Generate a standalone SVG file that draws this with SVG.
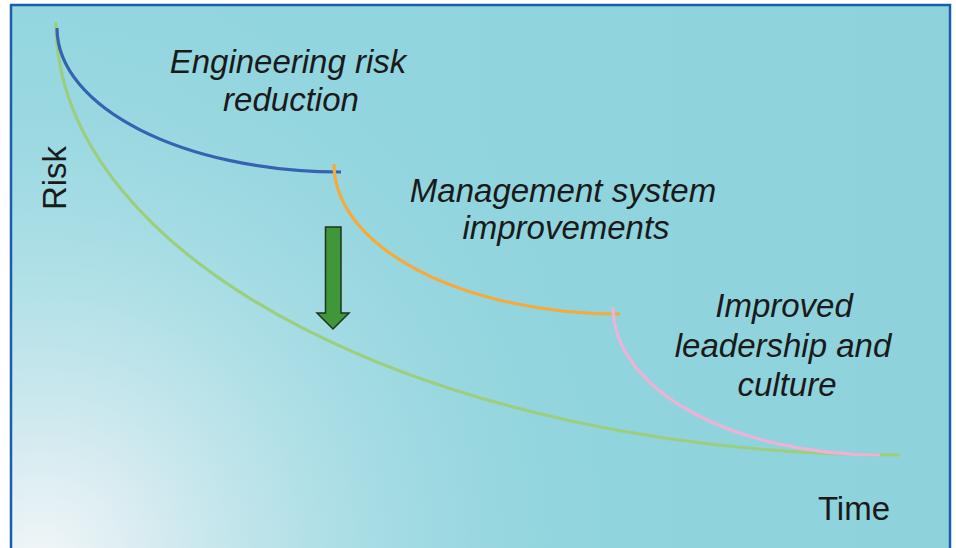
<svg xmlns="http://www.w3.org/2000/svg" width="956" height="548" viewBox="0 0 956 548">
  <defs>
    <linearGradient id="bg" x1="0" y1="0" x2="1" y2="0">
      <stop offset="0" stop-color="#93d6df"/>
      <stop offset="1" stop-color="#8ed3dc"/>
    </linearGradient>
    <radialGradient id="glow" cx="40" cy="560" r="620" gradientUnits="userSpaceOnUse">
      <stop offset="0" stop-color="#f2f6f8" stop-opacity="1"/>
      <stop offset="0.15" stop-color="#e4f0f4" stop-opacity="0.9"/>
      <stop offset="0.45" stop-color="#c6e7ed" stop-opacity="0.6"/>
      <stop offset="0.75" stop-color="#a9dde5" stop-opacity="0.25"/>
      <stop offset="1" stop-color="#93d6df" stop-opacity="0"/>
    </radialGradient>
    <style>
      .curve { fill: none; stroke-width: 3.2; stroke-linecap: butt; }
      .label { font-family: "Liberation Sans", Arial, sans-serif; font-size: 33px; fill: #1a1a1a; }
      .it { font-style: italic; text-anchor: middle; }
    </style>
  </defs>

  <!-- panel background -->
  <rect x="0" y="0" width="956" height="548" fill="#ffffff"/>
  <rect x="11" y="5" width="939" height="560" fill="url(#bg)"/>
  <rect x="11" y="5" width="939" height="560" fill="url(#glow)"/>
  <rect x="11" y="5" width="939" height="560" fill="none" stroke="#1a5daa" stroke-width="2.5"/>

  <!-- risk curves -->
  <g id="connectors">
    <path id="overall" class="curve" stroke="#9bcf7f" d="M56,22 C56,261 433,455 900,455"/>
    <path id="engineering" class="curve" stroke="#3563b0" d="M57,28 C57,107.5 183.7,172 341,172"/>
    <path id="management" class="curve" stroke="#f5aa3c" d="M334,164 C334,247 462,314 620,314"/>
    <path id="leadership" class="curve" stroke="#ebb3d6" d="M613,307 C613,389 732,455 880,455"/>
  </g>

  <!-- downward arrow -->
  <g id="arrow">
    <path d="M325.5,227 H341 V313 H349 L333,329 L317,313 H325.5 Z" fill="#3f973a" stroke="#1f331f" stroke-width="1.5" stroke-linejoin="miter"/>
  </g>

  <!-- axis labels -->
  <g id="axis-risk">
    <text class="label" transform="translate(66,178) rotate(-90)" text-anchor="middle">Risk</text>
  </g>
  <g id="axis-time">
    <text class="label" x="854" y="520" text-anchor="middle">Time</text>
  </g>

  <!-- stage labels -->
  <g id="label-engineering">
    <text class="label it" x="288" y="73">Engineering risk</text>
    <text class="label it" x="291" y="111">reduction</text>
  </g>
  <g id="label-management">
    <text class="label it" x="563" y="202">Management system</text>
    <text class="label it" x="566" y="239">improvements</text>
  </g>
  <g id="label-leadership">
    <text class="label it" x="784" y="317">Improved</text>
    <text class="label it" x="783" y="357">leadership and</text>
    <text class="label it" x="787" y="396">culture</text>
  </g>
</svg>
